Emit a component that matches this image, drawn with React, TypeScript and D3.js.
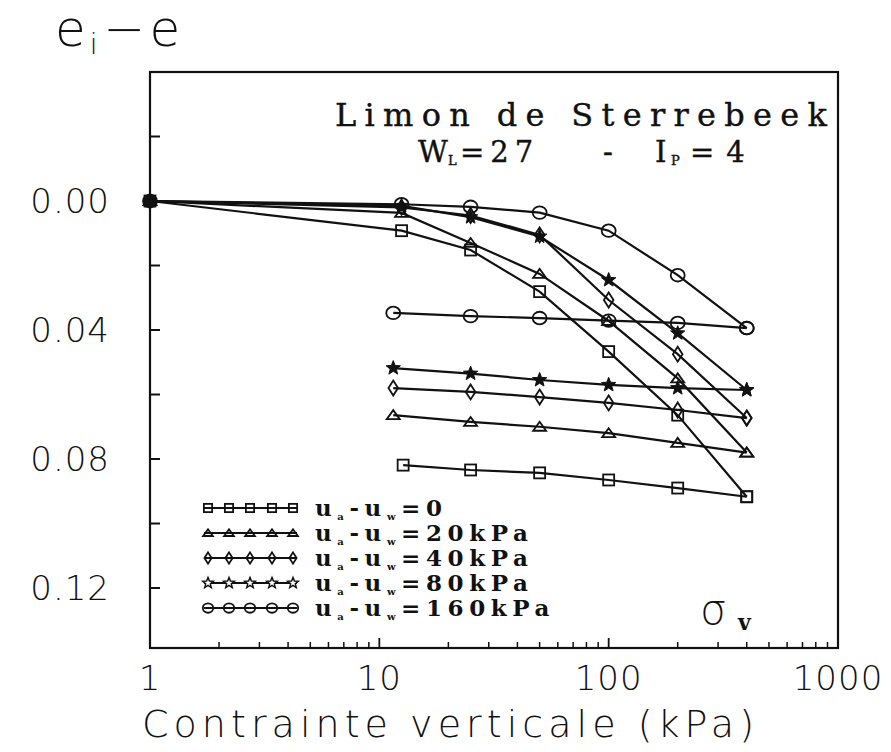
import React from 'react';
import * as d3 from 'd3';

// ---------- data ----------
const loadStress = [1, 12.5, 25, 50, 100, 200, 400];
const unloadStress = [400, 200, 100, 50, 25, 11.5];
const unloadStressSquare = [400, 200, 100, 50, 25, 12.7];

const load0 = [0, 0.0092, 0.0152, 0.0281, 0.0467, 0.0664, 0.0917];
const unload0 = [0.0917, 0.089, 0.0865, 0.0843, 0.0834, 0.0819];
const load20 = [0, 0.0037, 0.013, 0.0226, 0.0372, 0.055, 0.078];
const unload20 = [0.078, 0.075, 0.072, 0.070, 0.0685, 0.0664];
const load40 = [0, 0.002, 0.0045, 0.0105, 0.0307, 0.0475, 0.0673];
const unload40 = [0.0673, 0.0648, 0.0626, 0.0608, 0.0592, 0.058];
const load80 = [0, 0.0015, 0.005, 0.011, 0.0245, 0.041, 0.0586];
const unload80 = [0.0586, 0.058, 0.057, 0.0555, 0.0535, 0.0518];
const load160 = [0, 0.001, 0.0018, 0.0036, 0.0092, 0.023, 0.0394];
const unload160 = [0.0394, 0.0378, 0.0371, 0.0363, 0.0357, 0.0347];

const markerKinds = ['square', 'triangle', 'diamond', 'star', 'circle'];
const legendValues = ['0', '20kPa', '40kPa', '80kPa', '160kPa'];

const xMajorTicks = [1, 10, 100, 1000];
const xTickLabels = ['1', '10', '100', '1000'];
const yLabelValues = [0, 0.04, 0.08, 0.12];
const yTickLabels = ['0.00', '0.04', '0.08', '0.12'];
const yMinorTicks = [-0.02, 0, 0.02, 0.04, 0.06, 0.08, 0.1, 0.12];

// ---------- layout ----------
const W = 891;
const H = 752;
const L = 150, R = 838, T = 72, B = 648;

const x = d3.scaleLog().domain([1, 1000]).range([L, R]);
const y = d3.scaleLinear().domain([-0.04, 0.1386]).range([T, B]);

const axisFont = '"DejaVu Sans", sans-serif';
const serifFont = '"DejaVu Serif", "Liberation Serif", serif';

function Marker({ kind, cx, cy, s = 1 }: { kind: string; cx: number; cy: number; s?: number }) {
  const common = { fill: 'none', stroke: '#111', strokeWidth: 1.8 };
  if (kind === 'circle') return <ellipse cx={cx} cy={cy} rx={7 * s} ry={6.3 * s} {...common} />;
  if (kind === 'square') return <rect x={cx - 5.5 * s} y={cy - 5.5 * s} width={11 * s} height={11 * s} {...common} />;
  if (kind === 'triangle')
    return <path d={`M${cx - 6.5 * s},${cy + 4 * s}L${cx + 6.5 * s},${cy + 4 * s}L${cx},${cy - 5 * s}Z`} {...common} />;
  if (kind === 'diamond')
    return <path d={`M${cx},${cy - 7.5 * s}L${cx + 4.8 * s},${cy}L${cx},${cy + 7.5 * s}L${cx - 4.8 * s},${cy}Z`} {...common} />;
  // star
  const pts: string[] = [];
  for (let i = 0; i < 10; i++) {
    const r = (i % 2 === 0 ? 7.5 : 3.2) * s;
    const a = -Math.PI / 2 + (i * Math.PI) / 5;
    pts.push(`${cx + r * Math.cos(a)},${cy + r * Math.sin(a)}`);
  }
  return s < 1 ? (
    <path d={`M${pts.join('L')}Z`} fill="#fff" stroke="#111" strokeWidth={1.4} />
  ) : (
    <path d={`M${pts.join('L')}Z`} fill="#111" stroke="#111" strokeWidth={1} />
  );
}

export default function App() {
  const series = [
    { kind: 'square', load: load0, unload: unload0, us: unloadStressSquare },
    { kind: 'triangle', load: load20, unload: unload20, us: unloadStress },
    { kind: 'diamond', load: load40, unload: unload40, us: unloadStress },
    { kind: 'star', load: load80, unload: unload80, us: unloadStress },
    { kind: 'circle', load: load160, unload: unload160, us: unloadStress },
  ];
  const line = d3
    .line<[number, number]>()
    .x((d) => x(d[0]))
    .y((d) => y(d[1]));

  const minorX: number[] = [];
  [1, 10, 100].forEach((dec) => {
    for (let k = 2; k <= 9; k++) minorX.push(dec * k);
  });

  const legendRowY = (i: number) => 508 + i * 25;
  const legendMarkX = [208, 229, 250, 272, 293];

  return (
    <svg width={W} height={H} style={{ position: 'absolute', left: 0, top: 0, background: '#fff' }}>
      <rect x={0} y={0} width={W} height={H} fill="#fff" />
      {/* frame */}
      <rect x={L} y={T} width={R - L} height={B - T} fill="none" stroke="#111" strokeWidth={2.2} />

      {/* y ticks */}
      {yMinorTicks.map((v) => (
        <line key={'yt' + v} x1={L} x2={L + 10} y1={y(v)} y2={y(v)} stroke="#111" strokeWidth={2} />
      ))}
      {yLabelValues.map((v, i) => (
        <text key={'yl' + v} x={110} y={y(v) + 12} textAnchor="end" fontFamily={axisFont} fontWeight={200} fontSize={34} fill="#111" letterSpacing={1}>
          {yTickLabels[i]}
        </text>
      ))}

      {/* x ticks */}
      {minorX.map((v) => (
        <line key={'xm' + v} x1={x(v)} x2={x(v)} y1={B} y2={B - 6} stroke="#111" strokeWidth={1.5} />
      ))}
      {xMajorTicks.slice(1, 3).map((v) => (
        <line key={'xM' + v} x1={x(v)} x2={x(v)} y1={B} y2={B - 10} stroke="#111" strokeWidth={1.8} />
      ))}
      {xMajorTicks.map((v, i) => (
        <text key={'xl' + v} x={x(v)} y={690} textAnchor="middle" fontFamily={axisFont} fontWeight={200} fontSize={34} fill="#111" letterSpacing={1}>
          {xTickLabels[i]}
        </text>
      ))}

      {/* axis titles */}
      <text x={142} y={737} fontFamily={axisFont} fontWeight={200} fontSize={38} fill="#111" textLength={612} lengthAdjust="spacing">
        Contrainte verticale (kPa)
      </text>
      <text x={55} y={46} fontFamily={axisFont} fontWeight={200} fontSize={50} fill="#111">
        e<tspan fontSize={28} dx={4} dy={8}>i</tspan>
        <tspan dx={6} dy={-8}>−</tspan>
        <tspan dx={4}>e</tspan>
      </text>

      {/* title */}
      <text x={335} y={126} fontFamily={serifFont} fontSize={32} fill="#111" stroke="#111" strokeWidth={0.4} textLength={492} lengthAdjust="spacing">
        Limon de Sterrebeek
      </text>
      <g fontFamily={serifFont} fill="#111" stroke="#111" strokeWidth={0.4}>
        <text x={418} y={162} fontSize={29}>W</text>
        <text x={448} y={165} fontSize={13}>L</text>
        <text x={460} y={162} fontSize={29} letterSpacing={6}>=27</text>
        <text x={603} y={162} fontSize={29}>-</text>
        <text x={655} y={162} fontSize={29}>I</text>
        <text x={671} y={165} fontSize={13}>P</text>
        <text x={690} y={162} fontSize={29} letterSpacing={12}>=4</text>
      </g>

      {/* curves */}
      {series.map((s) => {
        const lp = loadStress.map((st, i) => [st, s.load[i]] as [number, number]);
        const up = s.us.map((st, i) => [st, s.unload[i]] as [number, number]);
        return (
          <g key={s.kind}>
            <path d={line(lp) || ''} fill="none" stroke="#111" strokeWidth={2.2} />
            <path d={line(up) || ''} fill="none" stroke="#111" strokeWidth={2.2} />
            {lp.map((p, i) => (
              <Marker key={'l' + i} kind={s.kind} cx={x(p[0])} cy={y(p[1])} />
            ))}
            {up.map((p, i) => (
              <Marker key={'u' + i} kind={s.kind} cx={x(p[0])} cy={y(p[1])} />
            ))}
          </g>
        );
      })}
      <circle cx={x(1)} cy={y(0)} r={6} fill="#111" />

      {/* legend */}
      {markerKinds.map((k, i) => (
        <g key={'lg' + k}>
          <line x1={204} x2={297} y1={legendRowY(i)} y2={legendRowY(i)} stroke="#111" strokeWidth={1.8} />
          {legendMarkX.map((mx) => (
            <Marker key={mx} kind={k} cx={mx} cy={legendRowY(i)} s={0.75} />
          ))}
          <text x={315} y={legendRowY(i) + 8} fontFamily={serifFont} fontWeight={700} fontSize={23} fill="#111" letterSpacing={5.6}>
            u<tspan fontSize={10} dy={4}>a</tspan>
            <tspan dy={-4}>-u</tspan>
            <tspan fontSize={10} dy={4}>w</tspan>
            <tspan dy={-4}>={legendValues[i]}</tspan>
          </text>
        </g>
      ))}

      {/* sigma_v */}
      <text x={700} y={624} fontFamily={axisFont} fontWeight={200} fontSize={42} fill="#111">
        σ
      </text>
      <text x={738} y={630} fontFamily={serifFont} fontWeight={700} fontSize={22} fill="#111">
        v
      </text>
    </svg>
  );
}
